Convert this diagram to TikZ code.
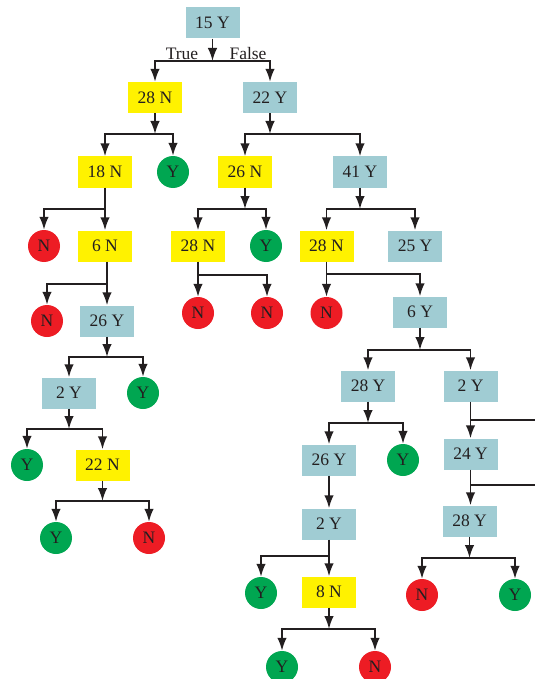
\documentclass[tikz,border=0pt]{standalone}
\usepackage{fontspec}
\setmainfont{Liberation Serif}
\usetikzlibrary{arrows.meta}
\definecolor{boxblue}{HTML}{A0CCD3}
\definecolor{boxyel}{HTML}{FFF200}
\definecolor{cgreen}{HTML}{00A651}
\definecolor{cred}{HTML}{ED1C24}
\definecolor{ink}{HTML}{231F20}
\tikzset{
  base/.style={inner sep=0pt, text=ink, font=\fontsize{17.5}{20}\selectfont},
  bbox/.style={base, fill=boxblue, minimum width=54pt, minimum height=31pt},
  ybox/.style={base, fill=boxyel, minimum width=54pt, minimum height=31pt},
  gcirc/.style={base, circle, fill=cgreen, minimum size=32pt},
  rcirc/.style={base, circle, fill=cred, minimum size=32pt},
  conn/.style={draw=ink, line width=1.8pt},
  arr/.style={conn, -{Latex[length=13pt,width=9.5pt]}},
  lbl/.style={base}
}
\begin{document}
\begin{tikzpicture}[x=1pt,y=-1pt]
\useasboundingbox (0,0) rectangle (535,679);
% nodes
\node[bbox] (n1) at (212.5,23) {15 Y};
\node[ybox] (n2) at (155,97.5) {28 N};
\node[bbox] (n3) at (270,97.5) {22 Y};
\node[ybox] (n4) at (105,172) {18 N};
\node[gcirc] (c1) at (173,172) {Y};
\node[ybox] (n5) at (245,172) {26 N};
\node[bbox] (n6) at (360,172) {41 Y};
\node[rcirc] (c2) at (44,246) {N};
\node[ybox] (n7) at (105,246) {6 N};
\node[ybox] (n8) at (198,246) {28 N};
\node[gcirc] (c3) at (266,246) {Y};
\node[ybox] (n9) at (326.5,246) {28 N};
\node[bbox] (n10) at (415,246) {25 Y};
\node[rcirc] (c4) at (47,321) {N};
\node[bbox] (n11) at (107,321) {26 Y};
\node[rcirc] (c5) at (198,313) {N};
\node[rcirc] (c6) at (267,313) {N};
\node[rcirc] (c7) at (326.5,313) {N};
\node[bbox] (n12) at (420,312) {6 Y};
\node[bbox] (n13) at (69,393) {2 Y};
\node[gcirc] (c8) at (143,393) {Y};
\node[bbox] (n14) at (368,386) {28 Y};
\node[bbox] (n15) at (470.5,386) {2 Y};
\node[gcirc] (c9) at (27,465) {Y};
\node[ybox] (n16) at (102.5,465) {22 N};
\node[bbox] (n17) at (329,460) {26 Y};
\node[gcirc] (c10) at (403,460) {Y};
\node[bbox] (n18) at (470.5,454) {24 Y};
\node[gcirc] (c11) at (56,538) {Y};
\node[rcirc] (c12) at (149,538) {N};
\node[bbox] (n20) at (329,524) {2 Y};
\node[bbox] (n19) at (469.5,521) {28 Y};
\node[gcirc] (c13) at (261,593) {Y};
\node[ybox] (n21) at (329,592) {8 N};
\node[rcirc] (c14) at (422,595) {N};
\node[gcirc] (c15) at (515,595) {Y};
\node[gcirc] (c16) at (282,667) {Y};
\node[rcirc] (c17) at (375,667) {N};
% labels
\node[lbl] (tru) at (182,54) {True};
\node[lbl] (fal) at (248,54) {False};
% bar coordinates
\coordinate (b1) at (212.5,61);
\coordinate (b2) at (155,134);
\coordinate (b3) at (270,134);
\coordinate (b4) at (105,209);
\coordinate (b5) at (245,209);
\coordinate (b6) at (360,209);
\coordinate (b7) at (107,284);
\coordinate (b8) at (198,275);
\coordinate (b9) at (326.5,274);
\coordinate (b10) at (107,357);
\coordinate (b11) at (420,350);
\coordinate (b12) at (69,429);
\coordinate (b13) at (368,423);
\coordinate (b14) at (470.5,420);
\coordinate (e14) at (535,420);
\coordinate (b15) at (470.5,485);
\coordinate (e15) at (535,485);
\coordinate (b16) at (102.5,501);
\coordinate (b17) at (329,556);
\coordinate (b18) at (469.5,558);
\coordinate (b19) at (329,629);
% connectors
\draw[arr] (n1) -- (b1);
\draw[arr] (b1) -| (n2);
\draw[arr] (b1) -| (n3);
\draw[arr] (n2) -- (b2);
\draw[arr] (b2) -| (n4);
\draw[arr] (b2) -| (c1);
\draw[arr] (n3) -- (b3);
\draw[arr] (b3) -| (n5);
\draw[arr] (b3) -| (n6);
\draw[conn] (n4) -- (b4);
\draw[arr] (b4) -| (c2);
\draw[arr] (b4) -- (n7);
\draw[arr] (n5) -- (b5);
\draw[arr] (b5) -| (n8);
\draw[arr] (b5) -| (c3);
\draw[arr] (n6) -- (b6);
\draw[arr] (b6) -| (n9);
\draw[arr] (b6) -| (n10);
\draw[conn] (n7.south -| b7) -- (b7);
\draw[arr] (b7) -| (c4);
\draw[arr] (b7) -- (n11);
\draw[conn] (n8) -- (b8);
\draw[arr] (b8) -- (c5);
\draw[arr] (b8) -| (c6);
\draw[conn] (n9) -- (b9);
\draw[arr] (b9) -- (c7);
\draw[arr] (b9) -| (n12);
\draw[arr] (n11) -- (b10);
\draw[arr] (b10) -| (n13);
\draw[arr] (b10) -| (c8);
\draw[arr] (n12) -- (b11);
\draw[arr] (b11) -| (n14);
\draw[arr] (b11) -| (n15);
\draw[arr] (n13) -- (b12);
\draw[arr] (b12) -| (c9);
\draw[arr] (b12) -| (n16);
\draw[arr] (n14) -- (b13);
\draw[arr] (b13) -| (n17);
\draw[arr] (b13) -| (c10);
\draw[conn] (n15) -- (b14);
\draw[conn] (b14) -- (e14);
\draw[arr] (b14) -- (n18);
\draw[conn] (n18) -- (b15);
\draw[conn] (b15) -- (e15);
\draw[arr] (b15) -- (n19.north -| b15);
\draw[arr] (n16) -- (b16);
\draw[arr] (b16) -| (c11);
\draw[arr] (b16) -| (c12);
\draw[arr] (n17) -- (n20);
\draw[conn] (n20) -- (b17);
\draw[arr] (b17) -| (c13);
\draw[arr] (b17) -- (n21);
\draw[arr] (n19) -- (b18);
\draw[arr] (b18) -| (c14);
\draw[arr] (b18) -| (c15);
\draw[arr] (n21) -- (b19);
\draw[arr] (b19) -| (c16);
\draw[arr] (b19) -| (c17);
\end{tikzpicture}
\end{document}
